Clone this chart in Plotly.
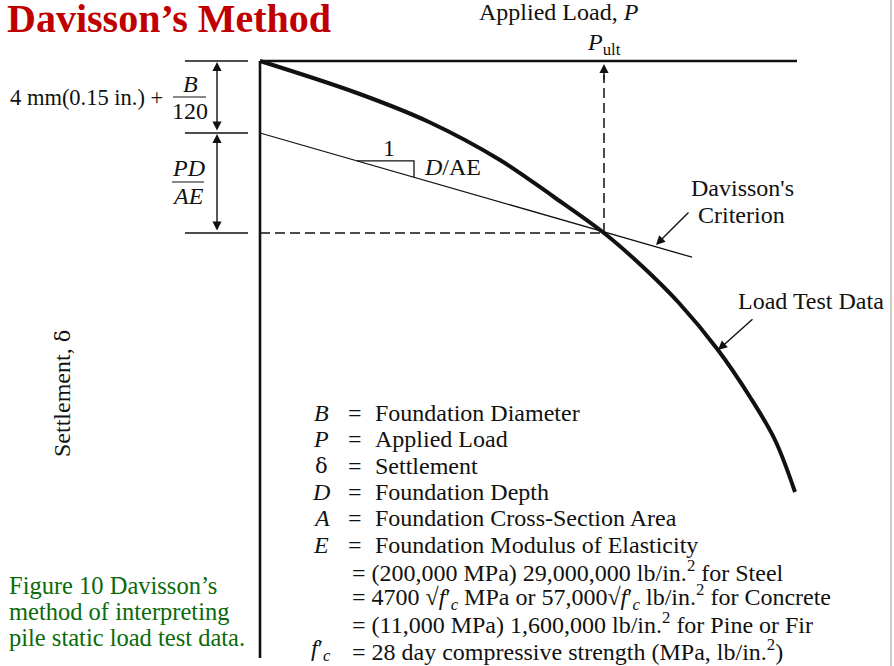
import plotly.graph_objects as go

# ---------------- data (load P horizontally, settlement delta downward) -------------
load_test_P = [0, 97, 169, 240, 294, 344, 383, 419, 458, 490, 515, 535]
load_test_delta = [0, 32, 61, 99, 136, 172, 206, 242, 289, 336, 379, 431]

davisson_offset = 72          # 4 mm (0.15 in.) + B/120
elastic_slope = 0.2875        # D/AE
davisson_P = [0, 432]
P_ult = 344
delta_ult = 172

P_axis_end = 537
delta_axis_end = 597

slope_triangle_P = [97, 154]

DELTA = '<span style="font-family:DejaVu Serif;font-size:21px">δ</span>'

definitions = [
    ("<i>B</i>", "Foundation Diameter"),
    ("<i>P</i>", "Applied Load"),
    (DELTA, "Settlement"),
    ("<i>D</i>", "Foundation Depth"),
    ("<i>A</i>", "Foundation Cross-Section Area"),
    ("<i>E</i>", "Foundation Modulus of Elasticity"),
]
modulus_lines = [
    "= (200,000 MPa) 29,000,000 lb/in.<sup>2</sup> for Steel",
    "= 4700 √<i>f</i>′<sub><i>c</i></sub> MPa or 57,000√<i>f</i>′<sub><i>c</i></sub> lb/in.<sup>2</sup> for Concrete",
    "= (11,000 MPa) 1,600,000 lb/in.<sup>2</sup> for Pine or Fir",
]
fc_line = "= 28 day compressive strength (MPa, lb/in.<sup>2</sup>)"
caption_lines = ["Figure 10 Davisson’s", "method of interpreting", "pile static load test data."]

FONT = "Liberation Serif, Times New Roman, serif"
BLACK = "#111111"
FS = 24

fig = go.Figure()

def line(xs, ys, width=1.5, dash=None, color=BLACK, shape="linear"):
    fig.add_trace(go.Scatter(x=xs, y=ys, mode="lines",
                             line=dict(color=color, width=width, dash=dash, shape=shape),
                             hoverinfo="skip", showlegend=False))

# axes
line([0, P_axis_end], [0, 0], width=2.6)
line([0, 0], [0, delta_axis_end], width=2.6)

# left reference ticks
tick_x = [-75, -12]
for d in [0, davisson_offset, delta_ult]:
    line(tick_x, [d, d], width=1.4)

# Davisson line
davisson_delta = [davisson_offset + elastic_slope * p for p in davisson_P]
line(davisson_P, davisson_delta, width=1.3)

# slope triangle
t0, t1 = slope_triangle_P
d0 = davisson_offset + elastic_slope * t0
d1 = davisson_offset + elastic_slope * t1
line([t0, t1, t1], [d0, d0, d1], width=1.3)

# dashed lines
line([0, P_ult], [delta_ult, delta_ult], width=1.5, dash="10px,5px")
line([P_ult, P_ult], [delta_ult, 14], width=1.5, dash="10px,5px")

# load test curve
line(load_test_P, load_test_delta, width=4, shape="spline")

# fraction bars
line([-87, -54], [36, 36], width=1)
line([-88, -56], [121, 121], width=1)

ann = []

def text(x, y, s, size=FS, xanchor="center", yanchor="middle", color=BLACK, **kw):
    ann.append(dict(x=x, y=y, xref="x", yref="y", text=s, showarrow=False,
                    xanchor=xanchor, yanchor=yanchor,
                    font=dict(family=FONT, size=size, color=color), **kw))

def arrow(x, y, ax, ay, side="end"):
    ann.append(dict(x=x, y=y, ax=ax, ay=ay, xref="x", yref="y", axref="x", ayref="y",
                    text="", showarrow=True, arrowhead=2, arrowsize=1.3, arrowwidth=1.4,
                    arrowcolor=BLACK, arrowside=side, standoff=0, startstandoff=0,
                    startarrowhead=2, startarrowsize=1.3))

# double arrows
arrow(-43, 1, -43, davisson_offset - 1, side="end+start")
arrow(-43, davisson_offset + 1, -43, delta_ult - 1, side="end+start")

# P_ult arrow head
arrow(P_ult, 3, P_ult, 20)

# pointer arrows
arrow(396, 184, 430, 150)
arrow(458, 289, 494, 257)

# title
ann.append(dict(x=-255, y=-43, xref="x", yref="y", text="<b>Davisson’s Method</b>",
                showarrow=False, xanchor="left", yanchor="middle",
                font=dict(family=FONT, size=40, color="#C00000")))

text(299, -49, "Applied Load, <i>P</i>")
text(344, -17, "<i>P</i><sub>ult</sub>")
text(-95, 36, "4 mm(0.15 in.) +", size=22.5, xanchor="right")
text(-70, 23, "<i>B</i>")
text(-70, 50, "120")
text(-72, 107, "<i>PD</i>")
text(-72, 135, "<i>AE</i>")
text(129, 87, "1")
text(162, 106, "<i>D</i>/AE", xanchor="left")
text(482, 127, "Davisson's")
text(481, 154, "Criterion")
text(551, 240, "Load Test Data")
text(-198, 333, "Settlement, " + DELTA, textangle=-90)

for i, c in enumerate(caption_lines):
    text(-253, 524 + 26 * i, c, size=24.5, xanchor="left", color="#0B6A0B")

row_y0 = 352
row_h = 26.3
for i, (sym, desc) in enumerate(definitions):
    y = row_y0 + row_h * i
    text(61, y, sym)
    text(95, y, "=")
    text(113, y, desc, xanchor="left")
for j, s in enumerate(modulus_lines):
    y = row_y0 + row_h * (len(definitions) + j)
    text(90, y, s, xanchor="left")
y = row_y0 + row_h * (len(definitions) + len(modulus_lines))
text(61, y, "<i>f</i>′<sub><i>c</i></sub>")
text(90, y, fc_line, xanchor="left")

fig.update_layout(
    width=894, height=666,
    margin=dict(l=0, r=0, t=0, b=0),
    paper_bgcolor="white", plot_bgcolor="white",
    showlegend=False,
    xaxis=dict(range=[-260, 634], visible=False, fixedrange=True),
    yaxis=dict(range=[605, -61], visible=False, fixedrange=True),
    annotations=ann,
    shapes=[dict(type="line", xref="paper", yref="paper", x0=0.9966, x1=0.9966,
                 y0=0, y1=1, line=dict(color="#9a9a9a", width=1))],
)

fig.write_html("out.html", config={"displayModeBar": False},
               post_script="document.body.style.margin='0';")
